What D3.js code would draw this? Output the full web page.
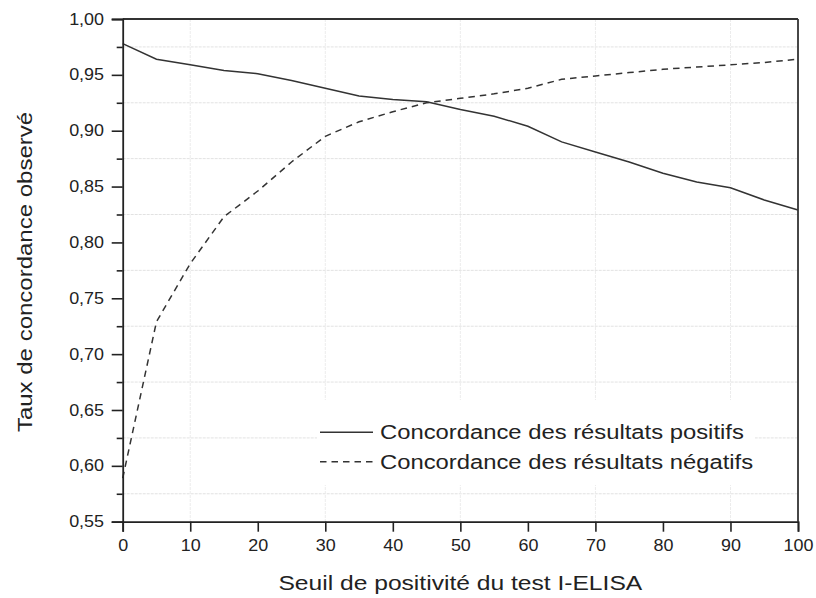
<!DOCTYPE html>
<html><head><meta charset="utf-8">
<script src="https://cdn.jsdelivr.net/npm/d3@7"></script>
<style>body{margin:0;background:#fff}svg{display:block}text{font-family:"Liberation Sans",Arial,sans-serif;fill:#222}</style>
</head><body><svg id="c" width="816" height="598"></svg>
<script>
const seuils = [0,5,10,15,20,25,30,35,40,45,50,55,60,65,70,75,80,85,90,95,100];
const positifs = [0.978,0.964,0.959,0.954,0.951,0.945,0.938,0.931,0.928,0.926,0.919,0.913,0.904,0.890,0.881,0.872,0.862,0.854,0.849,0.838,0.829];
const negatifs = [0.589,0.729,0.781,0.823,0.846,0.872,0.895,0.908,0.917,0.925,0.929,0.933,0.938,0.946,0.949,0.952,0.955,0.957,0.959,0.961,0.964];
const xTicks = [0,10,20,30,40,50,60,70,80,90,100];
const yTicks = [0.55,0.60,0.65,0.70,0.75,0.80,0.85,0.90,0.95,1.00];
const yMinor = [0.575,0.625,0.675,0.725,0.775,0.825,0.875,0.925,0.975];
const xGrid = [10,30,50,70,90];
const legendLabels = ["Concordance des résultats positifs","Concordance des résultats négatifs"];
const xTitle = "Seuil de positivité du test I-ELISA";
const yTitle = "Taux de concordance observé";

const L=122.7,R=798,T=19,B=521.7;
const svg=d3.select("#c");
const x=d3.scaleLinear().domain([0,100]).range([L,R]);
const y=d3.scaleLinear().domain([0.55,1.0]).range([B,T]);
const fmt=d=>d3.format(".2f")(d).replace(".",",");

// grid
const g=svg.append("g");
g.selectAll("line.h").data(yMinor).join("line").attr("x1",L).attr("x2",R)
 .attr("y1",d=>y(d)).attr("y2",d=>y(d)).attr("stroke","#e2e2e2").attr("stroke-width",1).attr("stroke-dasharray","3,1");
g.selectAll("line.v").data(xGrid).join("line").attr("y1",T).attr("y2",B)
 .attr("x1",d=>x(d)).attr("x2",d=>x(d)).attr("stroke","#ececec").attr("stroke-width",1).attr("stroke-dasharray","3,1");

// legend background
svg.append("rect").attr("x",317).attr("y",400).attr("width",438).attr("height",85).attr("fill","#fff");

// lines
const line=d3.line().x((d,i)=>x(seuils[i])).y(d=>y(d));
svg.append("path").datum(positifs).attr("d",line).attr("fill","none").attr("stroke","#333").attr("stroke-width",1.5);
svg.append("path").datum(negatifs).attr("d",line).attr("fill","none").attr("stroke","#333").attr("stroke-width",1.5).attr("stroke-dasharray","6.5,5");

// frame
svg.append("line").attr("x1",L).attr("x2",R).attr("y1",T).attr("y2",T).attr("stroke","#333").attr("stroke-width",1.8);
svg.append("line").attr("x1",R).attr("x2",R).attr("y1",T).attr("y2",B).attr("stroke","#333").attr("stroke-width",1.8);

// axes
svg.append("g").attr("class","ax").attr("transform",`translate(0,${B})`)
 .call(d3.axisBottom(x).tickValues(xTicks).tickSize(10).tickPadding(8).tickFormat(d3.format("d")));
svg.append("g").attr("class","ax").attr("transform",`translate(${L},0)`)
 .call(d3.axisLeft(y).tickValues(yTicks).tickSize(11).tickPadding(7.7).tickFormat(fmt));
svg.append("g").attr("transform",`translate(${L},0)`)
 .call(d3.axisLeft(y).tickValues(yMinor).tickSize(6).tickFormat(""))
 .call(a=>a.select(".domain").remove());
svg.selectAll(".domain").attr("stroke","#222").attr("stroke-width",1.8);
svg.selectAll(".tick line").attr("stroke","#222").attr("stroke-width",1.6);
svg.selectAll(".ax .tick text").attr("font-size",null).style("font-size","16px").attr("fill","#222")
 .style("font-family","'Liberation Sans',Arial,sans-serif").attr("data-s",1.12);
svg.selectAll(".ax").attr("font-size",null).attr("font-family",null);

// titles
svg.append("text").attr("data-s",1.23).attr("x",(L+R)/2).attr("y",590).attr("text-anchor","middle").style("font-size","20px").text(xTitle);
svg.append("text").attr("data-s",1.2).attr("transform",`translate(31.5,272) rotate(-90)`).attr("text-anchor","middle").style("font-size","20px").text(yTitle);

// legend
const styles=[null,"6.5,5"];
legendLabels.forEach((t,i)=>{
  const yy=432.3+i*29.4;
  svg.append("line").attr("x1",320).attr("x2",373).attr("y1",yy).attr("y2",yy).attr("stroke","#333").attr("stroke-width",1.5).attr("stroke-dasharray",styles[i]);
  svg.append("text").attr("data-s",1.19).attr("x",380).attr("y",yy+7).style("font-size","20px").text(t);
});

// horizontal stretch of the original picture
svg.selectAll("text").each(function(){
  const w=this.getComputedTextLength();
  const s=+(this.getAttribute("data-s")||1.2);
  if(w>0) d3.select(this).attr("textLength",w*s).attr("lengthAdjust","spacingAndGlyphs");
});
</script></body></html>
